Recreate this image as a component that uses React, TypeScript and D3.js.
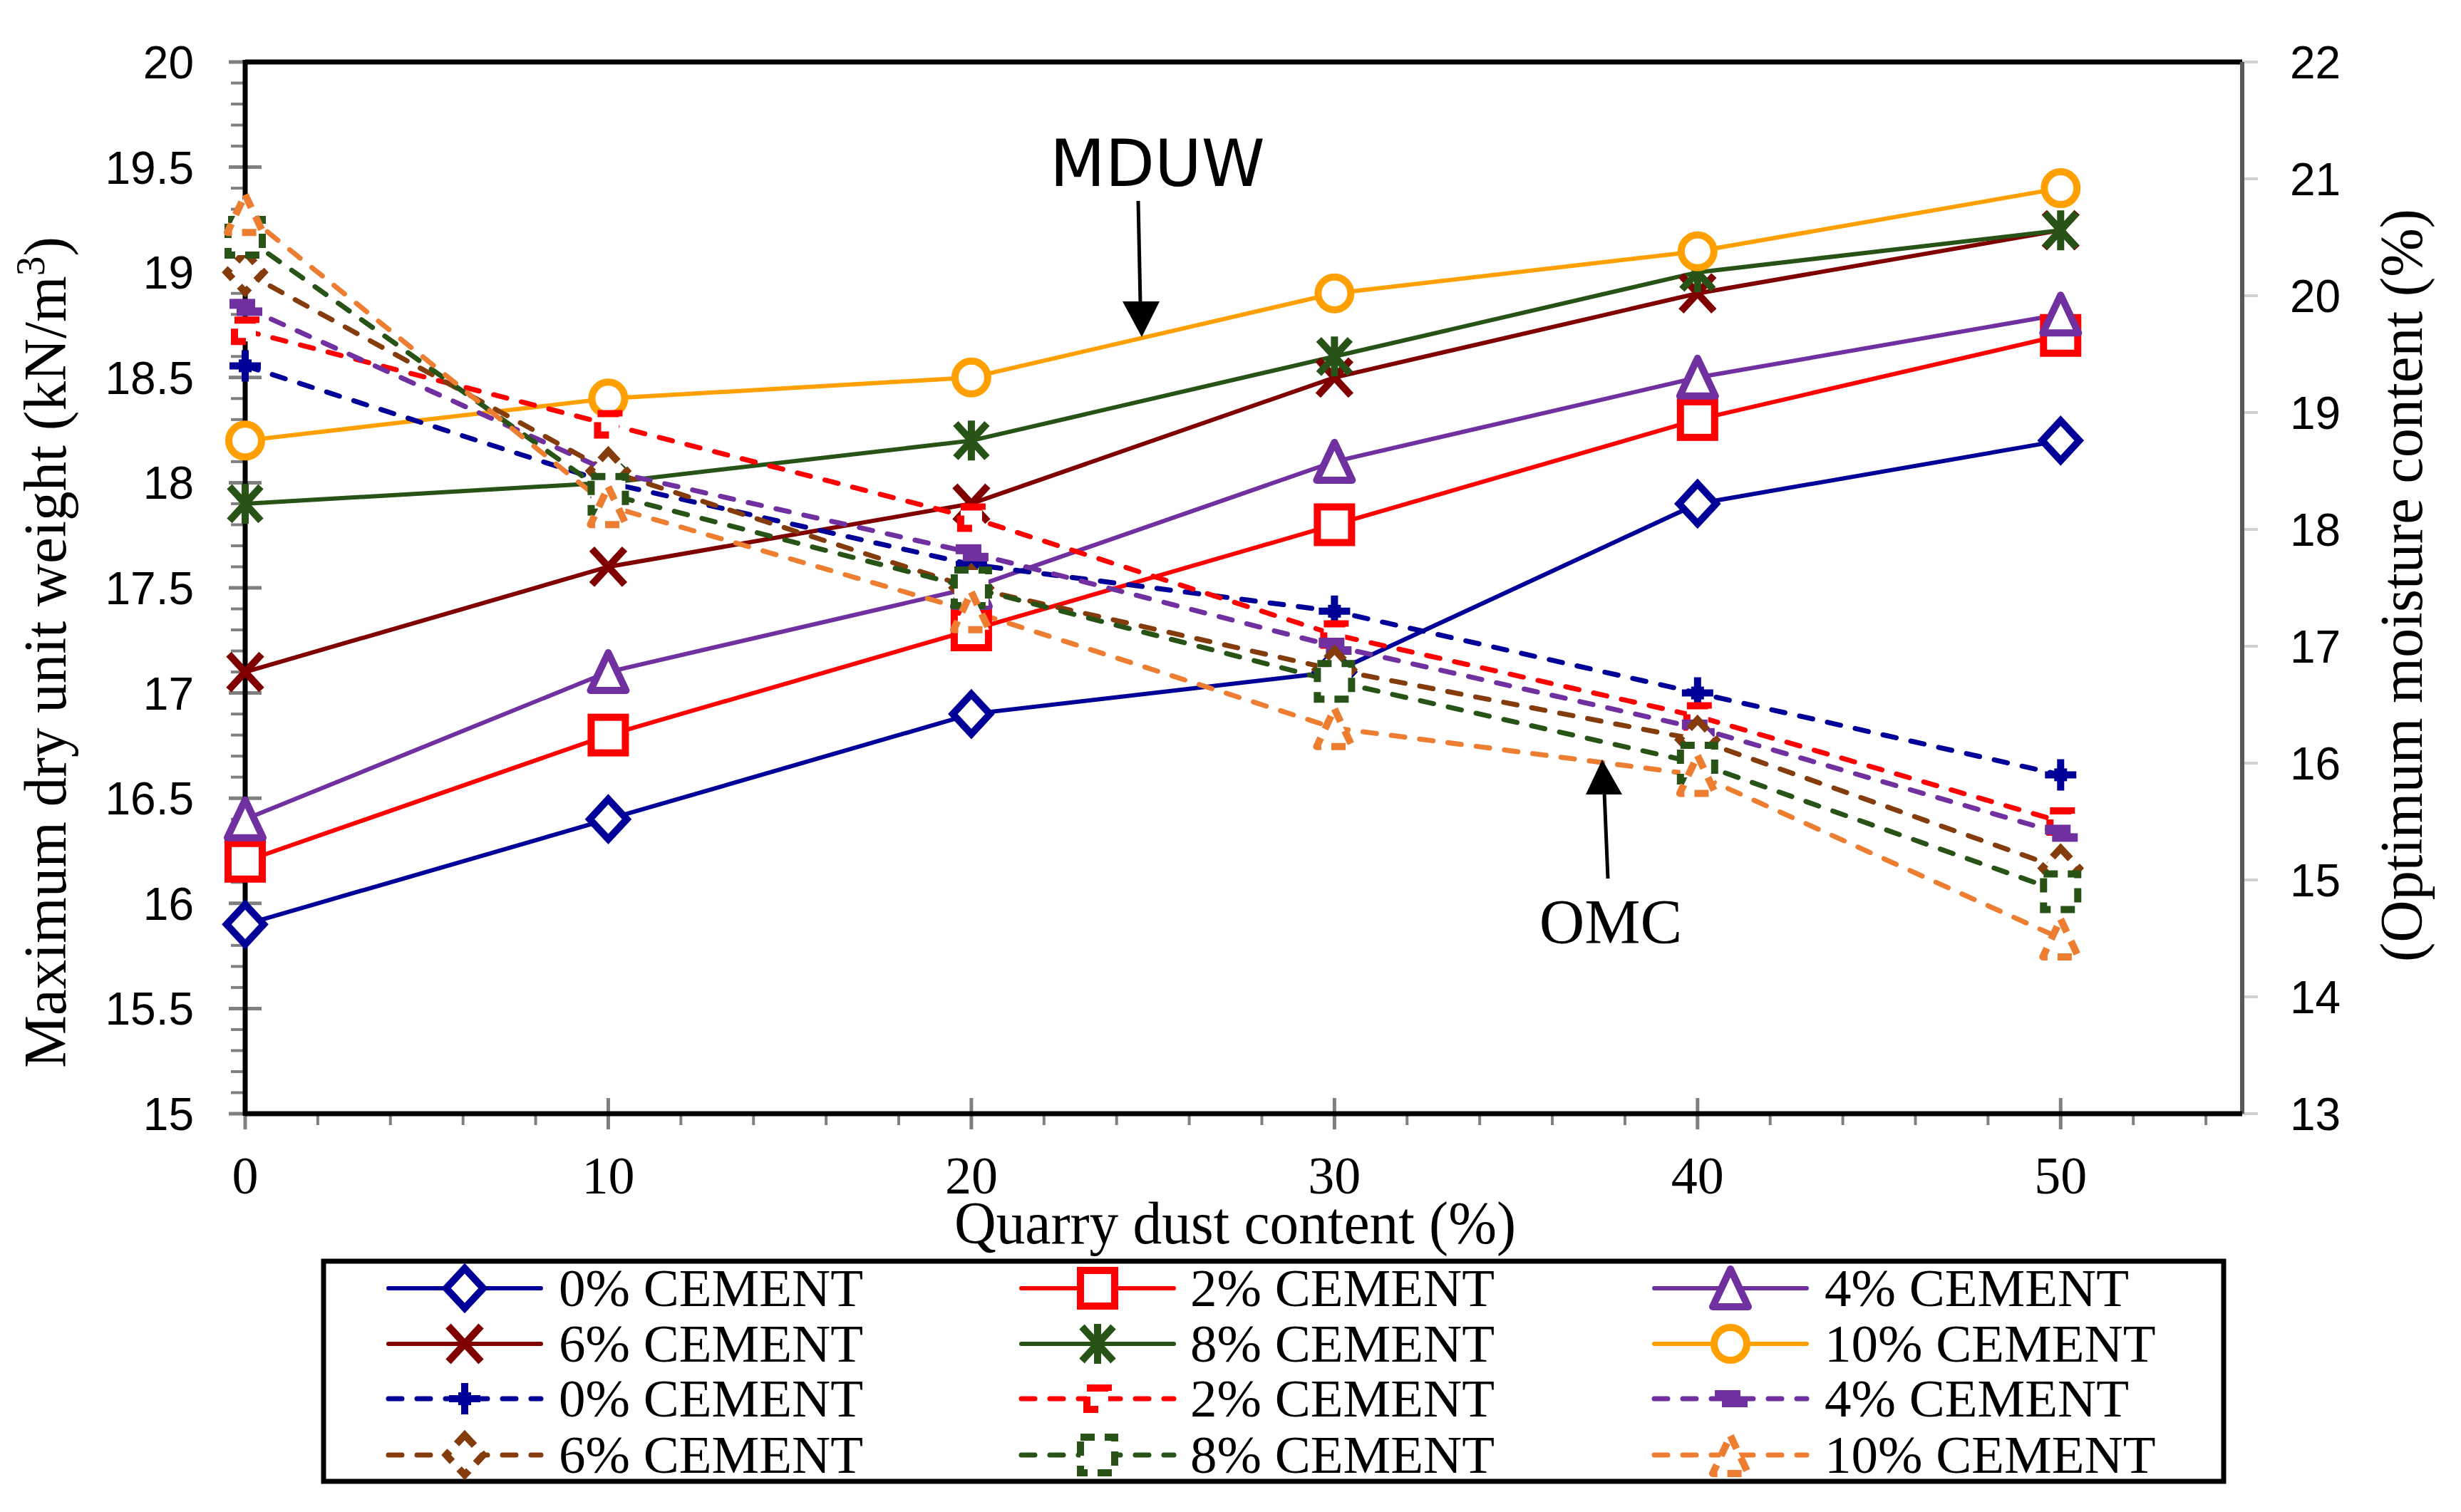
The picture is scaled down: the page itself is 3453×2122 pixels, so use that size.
import React from 'react';
import * as d3 from 'd3';

const W = 3453;
const H = 2122;

// ---- data ----
const quarryDust = [0, 10, 20, 30, 40, 50];
const cementLevels = ['0% CEMENT', '2% CEMENT', '4% CEMENT', '6% CEMENT', '8% CEMENT', '10% CEMENT'];

const mduwCement0 = [15.9, 16.4, 16.9, 17.1, 17.9, 18.2];
const mduwCement2 = [16.2, 16.8, 17.3, 17.8, 18.3, 18.7];
const mduwCement4 = [16.4, 17.1, 17.5, 18.1, 18.5, 18.8];
const mduwCement6 = [17.1, 17.6, 17.9, 18.5, 18.9, 19.2];
const mduwCement8 = [17.9, 18.0, 18.2, 18.6, 19.0, 19.2];
const mduwCement10 = [18.2, 18.4, 18.5, 18.9, 19.1, 19.4];

const omcCement0 = [19.4, 18.4, 17.7, 17.3, 16.6, 15.9];
const omcCement2 = [19.7, 18.9, 18.1, 17.1, 16.4, 15.5];
const omcCement4 = [19.9, 18.5, 17.8, 17.0, 16.3, 15.4];
const omcCement6 = [20.2, 18.5, 17.5, 16.8, 16.2, 15.1];
const omcCement8 = [20.5, 18.3, 17.5, 16.7, 16.0, 14.9];
const omcCement10 = [20.7, 18.2, 17.3, 16.3, 15.9, 14.5];

const leftTicks = [15, 15.5, 16, 16.5, 17, 17.5, 18, 18.5, 19, 19.5, 20];
const rightTicks = [13, 14, 15, 16, 17, 18, 19, 20, 21, 22];
const xTickLabels = [0, 10, 20, 30, 40, 50];

// ---- styles ----
const solidColors = ['#000099', '#FF0000', '#7030A0', '#800000', '#275317', '#FF9F00'];
const solidMarkers = ['diamond', 'square', 'triangle', 'x', 'star', 'circle'];
const dashColors = ['#000099', '#FF0000', '#7030A0', '#843C0C', '#275317', '#ED7D31'];
const dashMarkers = ['plus', 'smallsquare', 'bar', 'diamond', 'square', 'triangle'];

const mduwSeries = [mduwCement0, mduwCement2, mduwCement4, mduwCement6, mduwCement8, mduwCement10];
const omcSeries = [omcCement0, omcCement2, omcCement4, omcCement6, omcCement8, omcCement10];

const plot = { left: 344, right: 3146, top: 87, bottom: 1563 };

const x = d3.scaleLinear().domain([0, 55]).range([plot.left, plot.right]);
const yL = d3.scaleLinear().domain([15, 20]).range([plot.bottom, plot.top]);
const yR = d3.scaleLinear().domain([13, 22]).range([plot.bottom, plot.top]);

function Marker({ type, color, cx, cy, dashed }: { type: string; color: string; cx: number; cy: number; dashed: boolean }) {
  const sw = 10;
  const dash = dashed ? '20 14' : undefined;
  const common = { stroke: color, strokeWidth: sw, fill: '#fff', strokeDasharray: dash } as any;
  const t = `translate(${cx},${cy})`;
  switch (type) {
    case 'diamond':
      return <path transform={t} d="M0,-28L26,0L0,28L-26,0Z" {...common} strokeLinejoin="miter" />;
    case 'square':
      return <rect transform={t} x={-24} y={-25} width={48} height={50} {...common} />;
    case 'smallsquare':
      return <rect transform={t} x={-15} y={-15} width={30} height={30} {...common} strokeDasharray="34 40" />;
    case 'triangle':
      return <path transform={t} d="M0,-27L25,26L-25,26Z" {...common} strokeLinejoin="round" />;
    case 'circle':
      return <circle cx={cx} cy={cy} r={23} {...common} />;
    case 'x':
      return <path transform={t} d="M-23,-25L23,25M23,-25L-23,25" stroke={color} strokeWidth={sw} fill="none" />;
    case 'star':
      return (
        <path transform={t} d="M-22,-24L22,24M22,-24L-22,24M0,-28L0,28" stroke={color} strokeWidth={sw} fill="none" />
      );
    case 'plus':
      return (
        <g transform={t}>
          <rect x={-9} y={-9} width={18} height={18} fill={color} />
          <path d="M0,-22L0,22M-22,0L22,0" stroke={color} strokeWidth={sw} fill="none" />
        </g>
      );
    case 'bar':
      return (
        <g transform={t}>
          <rect x={-22} y={-12} width={36} height={14} fill={color} />
          <rect x={-12} y={0} width={36} height={12} fill={color} />
        </g>
      );
    default:
      return null;
  }
}

export default function App() {
  const lineL = d3
    .line<number>()
    .x((_, i) => x(quarryDust[i]))
    .y((d) => yL(d));
  const lineR = d3
    .line<number>()
    .x((_, i) => x(quarryDust[i]))
    .y((d) => yR(d));

  const leftMinor = d3.range(15, 20.0001, 0.1).map((v) => +v.toFixed(1));
  const xMinor = d3.range(0, 55.0001, 2);

  const legendCols = [545, 1433, 2321];
  const legendTextX = [784, 1670, 2560];
  const legendRows = [1808, 1886, 1963, 2042];
  const legendItems: { row: number; col: number; idx: number; dashed: boolean }[] = [];
  for (let i = 0; i < 6; i++) legendItems.push({ row: Math.floor(i / 3), col: i % 3, idx: i, dashed: false });
  for (let i = 0; i < 6; i++) legendItems.push({ row: 2 + Math.floor(i / 3), col: i % 3, idx: i, dashed: true });

  const tickFont = '"Liberation Sans", Arial, sans-serif';
  const serif = '"Liberation Serif", "Times New Roman", serif';

  return (
    <svg
      width={W}
      height={H}
      viewBox={`0 0 ${W} ${H}`}
      style={{ position: 'absolute', left: 0, top: 0, background: '#fff' }}
    >
      <rect x={0} y={0} width={W} height={H} fill="#fff" />

      {leftMinor.map((v) => (
        <line key={'lm' + v} x1={plot.left - 20} x2={plot.left} y1={yL(v)} y2={yL(v)} stroke="#7f7f7f" strokeWidth={4} />
      ))}
      {leftTicks.map((v) => (
        <line key={'lt' + v} x1={plot.left - 23} x2={plot.left + 23} y1={yL(v)} y2={yL(v)} stroke="#7f7f7f" strokeWidth={5} />
      ))}
      {rightTicks.map((v) => (
        <line key={'rt' + v} x1={plot.right} x2={plot.right + 22} y1={yR(v)} y2={yR(v)} stroke="#d0d0d0" strokeWidth={4} />
      ))}
      {xMinor.map((v) => (
        <line key={'xm' + v} x1={x(v)} x2={x(v)} y1={plot.bottom} y2={plot.bottom + 16} stroke="#7f7f7f" strokeWidth={4} />
      ))}
      {xTickLabels.map((v) => (
        <line key={'xt' + v} x1={x(v)} x2={x(v)} y1={plot.bottom - 22} y2={plot.bottom + 22} stroke="#7f7f7f" strokeWidth={5} />
      ))}

      <line x1={plot.left} x2={plot.right} y1={plot.top} y2={plot.top} stroke="#000" strokeWidth={7} />
      <line x1={plot.right} x2={plot.right} y1={plot.top} y2={plot.bottom} stroke="#595959" strokeWidth={6} />
      <line x1={plot.left} x2={plot.left} y1={plot.top - 3} y2={plot.bottom + 3} stroke="#000" strokeWidth={7} />
      <line x1={plot.left} x2={plot.right} y1={plot.bottom} y2={plot.bottom} stroke="#000" strokeWidth={7} />

      {leftTicks.map((v) => (
        <text key={'ll' + v} x={272} y={yL(v)} dy="0.36em" textAnchor="end" fontFamily={tickFont} fontSize={64}>
          {v}
        </text>
      ))}
      {rightTicks.map((v) => (
        <text key={'rl' + v} x={3213} y={yR(v)} dy="0.36em" textAnchor="start" fontFamily={tickFont} fontSize={64}>
          {v}
        </text>
      ))}
      {xTickLabels.map((v) => (
        <text key={'xl' + v} x={x(v)} y={1675} textAnchor="middle" fontFamily={serif} fontSize={74}>
          {v}
        </text>
      ))}

      <text
        x={1339}
        y={1745}
        textAnchor="start"
        fontFamily={serif}
        fontSize={84}
        textLength={788}
        lengthAdjust="spacingAndGlyphs"
      >
        Quarry dust content (%)
      </text>
      <text
        transform="translate(92,1499) rotate(-90)"
        textAnchor="start"
        fontFamily={serif}
        fontSize={84}
        textLength={1167}
        lengthAdjust="spacingAndGlyphs"
      >
        Maximum dry unit weight (kN/m<tspan dy="-30" fontSize={56}>3</tspan>
        <tspan dy="30">)</tspan>
      </text>
      <text
        transform="translate(3398,1350) rotate(-90)"
        textAnchor="start"
        fontFamily={serif}
        fontSize={84}
        textLength={1057}
        lengthAdjust="spacingAndGlyphs"
      >
        (Optimum moisture content (%)
      </text>

      {mduwSeries.map((s, i) => (
        <path key={'sl' + i} d={lineL(s) || ''} fill="none" stroke={solidColors[i]} strokeWidth={6} />
      ))}
      {omcSeries.map((s, i) => (
        <path
          key={'dl' + i}
          d={lineR(s) || ''}
          fill="none"
          stroke={dashColors[i]}
          strokeWidth={7}
          strokeDasharray="19 21"
          strokeLinecap="round"
        />
      ))}

      {mduwSeries.map((s, i) =>
        s.map((v, j) => (
          <Marker key={'sm' + i + '-' + j} type={solidMarkers[i]} color={solidColors[i]} cx={x(quarryDust[j])} cy={yL(v)} dashed={false} />
        ))
      )}
      {omcSeries.map((s, i) =>
        s.map((v, j) => (
          <Marker key={'dm' + i + '-' + j} type={dashMarkers[i]} color={dashColors[i]} cx={x(quarryDust[j])} cy={yR(v)} dashed={true} />
        ))
      )}

      <text x={1473} y={261} fontFamily='"DejaVu Sans", Verdana, sans-serif' fontSize={90}>
        MDUW
      </text>
      <line x1={1597} y1={282} x2={1600} y2={426} stroke="#000" strokeWidth={5} />
      <path d="M1575,423L1627,423L1602,473Z" fill="#000" />

      <text x={2260} y={1323} textAnchor="middle" fontFamily={serif} fontSize={88}>
        OMC
      </text>
      <line x1={2256} y1={1233} x2={2251} y2={1112} stroke="#000" strokeWidth={5} />
      <path d="M2225,1115L2276,1115L2248,1066Z" fill="#000" />

      <rect x={454} y={1770} width={2666} height={309} fill="#fff" stroke="#000" strokeWidth={7} />
      {legendItems.map((it) => {
        const x0 = legendCols[it.col];
        const x1 = x0 + 214;
        const cy = legendRows[it.row];
        const color = it.dashed ? dashColors[it.idx] : solidColors[it.idx];
        const mk = it.dashed ? dashMarkers[it.idx] : solidMarkers[it.idx];
        return (
          <g key={'lg' + it.row + '-' + it.col}>
            <line
              x1={x0}
              x2={x1}
              y1={cy}
              y2={cy}
              stroke={color}
              strokeWidth={it.dashed ? 7 : 6}
              strokeDasharray={it.dashed ? '19 21' : undefined}
              strokeLinecap="round"
            />
            <Marker type={mk} color={color} cx={(x0 + x1) / 2} cy={cy} dashed={it.dashed} />
            <text x={legendTextX[it.col]} y={cy + 25} fontFamily={serif} fontSize={75}>
              {cementLevels[it.idx]}
            </text>
          </g>
        );
      })}
    </svg>
  );
}
